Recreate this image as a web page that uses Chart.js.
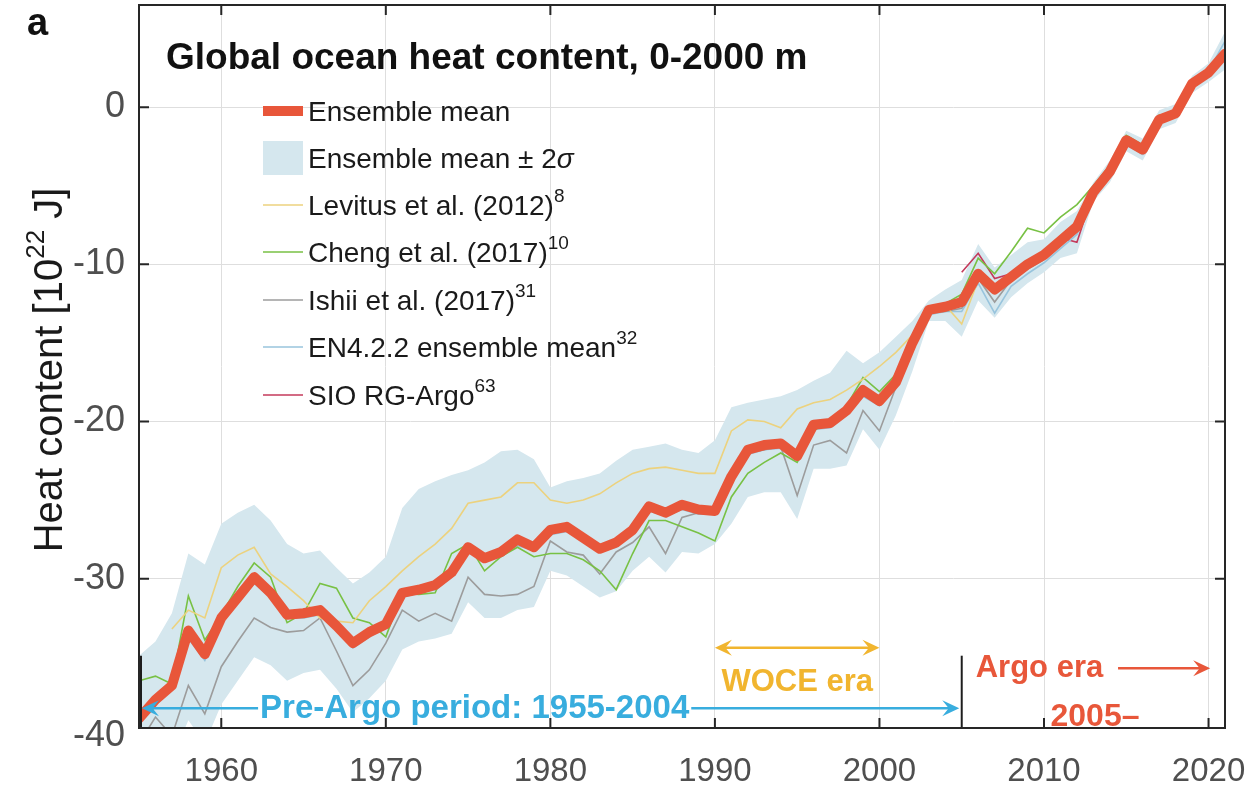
<!DOCTYPE html>
<html>
<head>
<meta charset="utf-8">
<script src="https://cdn.jsdelivr.net/npm/chart.js@4.4.1/dist/chart.umd.min.js"></script>
<style>
  html, body { margin: 0; padding: 0; background: #ffffff; }
  canvas { display: block; }
</style>
</head>
<body>
<canvas id="ohc" width="1255" height="791"></canvas>
<script>
// ---- data: global ocean heat content anomaly, 0-2000 m [10^22 J] ----
const years = [1955,1956,1957,1958,1959,1960,1961,1962,1963,1964,1965,1966,1967,1968,1969,
  1970,1971,1972,1973,1974,1975,1976,1977,1978,1979,1980,1981,1982,1983,1984,1985,1986,1987,1988,1989,
  1990,1991,1992,1993,1994,1995,1996,1997,1998,1999,2000,2001,2002,2003,2004,2005,2006,2007,2008,2009,
  2010,2011,2012,2013,2014,2015,2016,2017,2018,2019,2020,2021];

const ensembleMean = [-38.9,-37.7,-36.8,-33.3,-34.8,-32.5,-31.2,-29.9,-30.9,-32.3,-32.2,-32.0,-33.0,-34.1,-33.4,
  -32.9,-30.9,-30.7,-30.4,-29.6,-28.0,-28.7,-28.3,-27.5,-28.0,-26.9,-26.7,-27.4,-28.1,-27.7,-26.9,-25.4,-25.8,-25.3,-25.6,
  -25.7,-23.5,-21.8,-21.5,-21.4,-22.2,-20.2,-20.1,-19.3,-18.0,-18.7,-17.5,-15.0,-12.9,-12.7,-12.4,-10.6,-11.6,-10.8,-10.0,
  -9.4,-8.5,-7.6,-5.4,-4.1,-2.1,-2.7,-0.8,-0.4,1.5,2.2,3.4];

const bandUpper = [-34.9,-34.0,-32.2,-28.4,-29.1,-26.5,-25.8,-25.3,-26.3,-27.8,-28.4,-28.2,-29.3,-30.3,-29.6,
  -28.6,-25.5,-24.3,-23.8,-23.4,-23.1,-22.6,-21.9,-21.8,-22.4,-24.2,-23.8,-23.6,-23.3,-22.5,-21.8,-21.6,-21.4,-21.8,-22.0,
  -21.2,-19.1,-18.8,-18.6,-18.4,-18.0,-17.4,-16.9,-15.5,-16.3,-15.6,-14.6,-13.6,-12.3,-11.6,-11.0,-8.7,-10.2,-9.4,-8.6,
  -8.4,-7.3,-6.6,-4.8,-3.4,-1.5,-2.0,-0.2,0.2,2.0,2.8,4.8];

const bandLower = [-43.0,-42.0,-41.5,-39.0,-40.5,-38.0,-36.5,-35.0,-35.5,-36.5,-36.0,-35.8,-37.0,-38.5,-37.6,
  -36.5,-34.5,-34.0,-33.8,-33.5,-31.5,-32.5,-32.5,-32.0,-31.8,-29.5,-29.8,-30.5,-31.2,-30.8,-29.5,-28.6,-29.6,-28.3,-28.4,
  -27.8,-26.5,-24.8,-24.5,-24.5,-26.2,-23.0,-23.0,-22.8,-20.5,-21.8,-19.6,-16.8,-13.6,-13.6,-14.6,-12.3,-13.4,-12.1,-11.2,
  -10.5,-9.6,-9.3,-6.0,-4.8,-2.8,-3.4,-1.4,-1.0,0.9,1.6,2.4];

const levitus = [null,null,-33.2,-32.0,-32.5,-29.3,-28.5,-28.0,-29.7,-30.5,-31.4,-32.5,-32.7,-32.8,-31.4,
  -30.5,-29.5,-28.6,-27.8,-26.8,-25.2,-25.0,-24.8,-23.9,-23.9,-25.0,-25.2,-25.0,-24.6,-23.9,-23.3,-23.0,-22.9,-23.1,-23.3,
  -23.3,-20.6,-19.9,-20.0,-20.4,-19.2,-18.8,-18.6,-18.0,-17.3,-16.5,-15.6,-14.5,-13.0,-12.6,-13.8,-11.0,-11.3,-10.6,-9.8,
  -9.3,-8.6,-7.4,-5.6,-4.3,-2.3,-2.5,-1.0,-0.6,1.2,2.0,3.2];

const cheng = [-36.5,-36.2,-36.7,-31.1,-33.9,-32.3,-30.5,-29.0,-29.9,-32.8,-32.2,-30.3,-30.6,-32.5,-32.8,
  -33.7,-30.9,-31.0,-30.9,-28.4,-27.8,-29.5,-28.6,-28.0,-28.6,-28.4,-28.4,-28.8,-29.5,-30.7,-28.4,-26.3,-26.3,-26.7,-27.1,
  -27.6,-24.8,-23.3,-22.6,-22.0,-22.6,-20.6,-19.9,-19.0,-17.2,-18.1,-17.0,-14.8,-12.8,-12.5,-11.9,-9.6,-10.6,-9.2,-7.7,
  -8.0,-7.0,-6.2,-5.0,-3.7,-1.8,-2.4,-0.5,-0.6,1.6,2.3,3.6];

const ishii = [-40.5,-38.8,-40.0,-36.8,-38.6,-35.6,-34.0,-32.5,-33.1,-33.4,-33.3,-32.5,-34.6,-36.8,-35.8,
  -34.1,-32.0,-32.7,-32.2,-32.7,-29.9,-31.0,-31.1,-31.0,-30.5,-27.6,-28.3,-28.5,-29.7,-28.3,-27.7,-26.7,-28.4,-26.1,-25.8,
  -25.7,-23.8,-22.0,-21.8,-21.6,-24.7,-21.5,-21.2,-22.0,-19.3,-20.6,-17.8,-15.5,-13.1,-13.0,-12.8,-10.9,-12.4,-11.0,-10.3,
  -9.7,-8.8,-7.9,-5.6,-4.3,-2.3,-2.9,-1.0,-0.6,1.3,2.0,3.2];

const en4 = [-39.2,-38.0,-37.0,-33.8,-35.2,-32.9,-31.5,-30.3,-31.2,-32.5,-32.5,-32.3,-33.3,-34.4,-33.7,
  -33.1,-31.2,-30.9,-30.7,-29.9,-28.3,-28.9,-28.6,-27.9,-28.2,-27.2,-27.0,-27.6,-28.3,-28.0,-27.1,-25.7,-26.0,-25.6,-25.9,
  -25.9,-23.8,-22.1,-21.8,-21.7,-22.5,-20.5,-20.4,-19.6,-18.4,-19.0,-17.9,-15.4,-13.2,-13.0,-13.0,-11.2,-13.1,-11.4,-10.6,
  -9.9,-9.0,-8.1,-5.8,-4.4,-2.4,-3.0,-1.0,-0.6,1.4,2.3,4.2];

const sioArgo = [null,null,null,null,null,null,null,null,null,null,null,null,null,null,null,
  null,null,null,null,null,null,null,null,null,null,null,null,null,null,null,null,null,null,null,null,
  null,null,null,null,null,null,null,null,null,null,null,null,null,null,null,-10.5,-9.3,-10.9,-10.6,-9.9,
  -9.3,-8.3,-8.6,-5.4,-4.1,-2.1,-2.7,-0.8,-0.4,1.5,2.2,3.4];

const xTickValues = [1960, 1970, 1980, 1990, 2000, 2010, 2020];
const yTickValues = [-40, -30, -20, -10, 0];

const seriesLabels = ['Ensemble mean', 'Ensemble mean \u00B1 2', 'Levitus et al. (2012)', 'Cheng et al. (2017)',
  'Ishii et al. (2017)', 'EN4.2.2 ensemble mean', 'SIO RG-Argo'];
const seriesRefs = ['', '', '8', '10', '31', '32', '63'];

// ---- styling ----
const FONT = "'Liberation Sans', Arial, Helvetica, sans-serif";
const C = {
  mean: '#E8563A',
  band: '#D5E7EE',
  levitus: '#ECD27E',
  cheng: '#78C144',
  ishii: '#9C9C9C',
  en4: '#98C4DD',
  sio: '#C43A5B',
  axis: '#262626',
  grid: '#DEDEDE',
  tick: '#4F4F4F',
  blue: '#38ADDE',
  woce: '#F1B52F',
  argo: '#E8573A'
};

const pts = arr => years.map((yr, i) => ({ x: yr, y: arr[i] }));
const thin = (label, data, color) => ({
  label, data: pts(data), borderColor: color, backgroundColor: color,
  borderWidth: 1.6, pointRadius: 0, fill: false, order: 2, spanGaps: false
});

const datasets = [
  { label: 'Ensemble mean \u00B1 2\u03C3 upper', data: pts(bandUpper), borderWidth: 0, pointRadius: 0,
    backgroundColor: C.band, borderColor: 'transparent', fill: { target: '+1' }, order: 3 },
  { label: 'Ensemble mean \u00B1 2\u03C3 lower', data: pts(bandLower), borderWidth: 0, pointRadius: 0,
    backgroundColor: C.band, borderColor: 'transparent', fill: false, order: 3 },
  thin(seriesLabels[2], levitus, C.levitus),
  thin(seriesLabels[3], cheng, C.cheng),
  thin(seriesLabels[4], ishii, C.ishii),
  thin(seriesLabels[5], en4, C.en4),
  thin(seriesLabels[6], sioArgo, C.sio),
  { label: seriesLabels[0], data: pts(ensembleMean), borderColor: C.mean, backgroundColor: C.mean,
    borderWidth: 10, pointRadius: 0, fill: false, order: 0, borderJoinStyle: 'round', borderCapStyle: 'round' }
];

// ---- helpers for drawing text runs with superscripts ----
function drawRuns(ctx, x, y, runs) {
  let cx = x;
  runs.forEach(r => {
    ctx.font = r.font;
    ctx.fillStyle = r.color;
    ctx.fillText(r.text, cx, y - (r.rise || 0));
    cx += ctx.measureText(r.text).width;
  });
  return cx;
}

function arrowHead(ctx, tx, ty, dir, color) {
  const L = 17, W = 8;
  ctx.fillStyle = color;
  ctx.beginPath();
  ctx.moveTo(tx, ty);
  ctx.lineTo(tx - dir * L, ty - W);
  ctx.lineTo(tx - dir * L * 0.62, ty);
  ctx.lineTo(tx - dir * L, ty + W);
  ctx.closePath();
  ctx.fill();
}

function hLine(ctx, x1, x2, y, color, w) {
  ctx.strokeStyle = color; ctx.lineWidth = w;
  ctx.beginPath(); ctx.moveTo(x1, y); ctx.lineTo(x2, y); ctx.stroke();
}

// era annotations along the bottom of the plot
const eraNotes = {
  id: 'eraNotes',
  afterDatasetsDraw(chart) {
    const { ctx, scales: { x, y }, chartArea: a } = chart;
    ctx.save();
    ctx.textBaseline = 'middle';

    // divider lines at 1955 and 2005
    ctx.strokeStyle = '#1E1E1E'; ctx.lineWidth = 2;
    [1955, 2005].forEach(v => {
      const px = x.getPixelForValue(v) + (v === 1955 ? 2 : 0);
      ctx.beginPath(); ctx.moveTo(px, y.getPixelForValue(-34.9)); ctx.lineTo(px, a.bottom); ctx.stroke();
    });

    // pre-Argo period
    ctx.font = 'bold 33px ' + FONT;
    const preText = 'Pre-Argo period: 1955-2004';
    const preW = ctx.measureText(preText).width;
    const preCx = x.getPixelForValue(1975.4);
    const preY = y.getPixelForValue(-38.25);
    ctx.fillStyle = C.blue; ctx.textAlign = 'center';
    ctx.fillText(preText, preCx, preY + 1);
    const pL = x.getPixelForValue(1955) + 3, pR = x.getPixelForValue(2004.85);
    hLine(ctx, pL + 10, preCx - preW / 2 - 2, preY, C.blue, 2.5);
    hLine(ctx, preCx + preW / 2 + 2, pR - 10, preY, C.blue, 2.5);
    arrowHead(ctx, pL, preY, -1, C.blue);
    arrowHead(ctx, pR, preY, 1, C.blue);

    // WOCE era
    const wY = y.getPixelForValue(-34.4);
    const w1 = x.getPixelForValue(1990), w2 = x.getPixelForValue(2000);
    hLine(ctx, w1 + 10, w2 - 10, wY, C.woce, 2.5);
    arrowHead(ctx, w1, wY, -1, C.woce);
    arrowHead(ctx, w2, wY, 1, C.woce);
    ctx.font = 'bold 31px ' + FONT;
    ctx.fillStyle = C.woce; ctx.textAlign = 'center';
    ctx.fillText('WOCE era', x.getPixelForValue(1995), y.getPixelForValue(-36.6));

    // Argo era
    ctx.fillStyle = C.argo; ctx.textAlign = 'left';
    const aY = y.getPixelForValue(-35.7);
    ctx.fillText('Argo era', x.getPixelForValue(2005.85), aY);
    const a1 = x.getPixelForValue(2014.5), a2 = x.getPixelForValue(2020.1);
    hLine(ctx, a1, a2 - 10, aY, C.argo, 2.5);
    arrowHead(ctx, a2, aY, 1, C.argo);
    ctx.font = 'bold 32px ' + FONT;
    ctx.textAlign = 'center';
    ctx.fillText('2005\u2013', x.getPixelForValue(2013.1), y.getPixelForValue(-38.8));
    ctx.restore();
  }
};

// axes box with inward ticks, legend, titles
const frame = {
  id: 'frame',
  afterDraw(chart) {
    const { ctx, scales: { x, y }, chartArea: a } = chart;
    ctx.save();
    ctx.strokeStyle = C.axis; ctx.lineWidth = 2;
    ctx.beginPath();
    xTickValues.forEach(v => {
      const px = x.getPixelForValue(v);
      ctx.moveTo(px, a.bottom); ctx.lineTo(px, a.bottom - 10);
      ctx.moveTo(px, a.top); ctx.lineTo(px, a.top + 10);
    });
    yTickValues.forEach(v => {
      if (v < y.min) return;
      const py = y.getPixelForValue(v);
      ctx.moveTo(a.left, py); ctx.lineTo(a.left + 10, py);
      ctx.moveTo(a.right, py); ctx.lineTo(a.right - 10, py);
    });
    ctx.stroke();
    ctx.strokeRect(a.left, a.top, a.right - a.left, a.bottom - a.top);

    // panel letter and title
    ctx.textBaseline = 'alphabetic'; ctx.textAlign = 'left';
    ctx.fillStyle = '#111';
    ctx.font = 'bold 38px ' + FONT;
    ctx.fillText('a', 27, 35);
    ctx.font = 'bold 37px ' + FONT;
    ctx.fillText('Global ocean heat content, 0-2000 m', 166, 69);

    // legend
    const rowY = [111, 158, 205, 252, 300, 347, 395];
    const sx1 = 263, sx2 = 303, tx = 308;
    const textFont = '28px ' + FONT, supFont = '19px ' + FONT;
    const swatch = [C.mean, null, C.levitus, C.cheng, C.ishii, C.en4, C.sio];
    rowY.forEach((ry, i) => {
      if (i === 0) {
        hLine(ctx, sx1, sx2, ry, C.mean, 10);
      } else if (i === 1) {
        ctx.fillStyle = C.band;
        ctx.fillRect(sx1, ry - 17, sx2 - sx1, 34);
      } else {
        hLine(ctx, sx1, sx2, ry, swatch[i], 1.6);
      }
      const runs = [{ text: seriesLabels[i], font: textFont, color: '#1A1A1A' }];
      if (i === 1) runs.push({ text: '\u03C3', font: 'italic 28px ' + FONT, color: '#1A1A1A' });
      if (seriesRefs[i]) runs.push({ text: seriesRefs[i], font: supFont, color: '#1A1A1A', rise: 13 });
      drawRuns(ctx, tx, ry + 10, runs);
    });

    // y-axis title with superscript exponent
    ctx.translate(62, 370);
    ctx.rotate(-Math.PI / 2);
    const yRuns = [
      { text: 'Heat content [10', font: '40px ' + FONT, color: '#1A1A1A' },
      { text: '22', font: '26px ' + FONT, color: '#1A1A1A', rise: 18 },
      { text: ' J]', font: '40px ' + FONT, color: '#1A1A1A' }
    ];
    let tw = 0;
    yRuns.forEach(r => { ctx.font = r.font; tw += ctx.measureText(r.text).width; });
    drawRuns(ctx, -tw / 2, 0, yRuns);
    ctx.restore();
  }
};

new Chart(document.getElementById('ohc'), {
  type: 'line',
  data: { datasets },
  options: {
    responsive: false,
    animation: false,
    devicePixelRatio: 1,
    layout: { padding: { top: 5, right: 30, left: 0, bottom: 0 } },
    plugins: { legend: { display: false }, tooltip: { enabled: false }, filler: { propagate: false } },
    scales: {
      x: {
        type: 'linear', min: 1955, max: 2021,
        afterBuildTicks: s => { s.ticks = xTickValues.map(v => ({ value: v })); },
        afterFit: s => { s.height = 63; s.paddingLeft = 0; s.paddingRight = 0; },
        grid: { color: C.grid, lineWidth: 1, drawTicks: false },
        border: { display: false },
        ticks: { autoSkip: false, maxRotation: 0, padding: 24, color: C.tick,
                 font: { family: FONT, size: 33 }, callback: v => String(v) }
      },
      y: {
        type: 'linear', min: -39.5, max: 6.5,
        afterBuildTicks: s => { s.ticks = yTickValues.map(v => ({ value: v })); },
        afterFit: s => { s.width = 139; s.paddingTop = 0; s.paddingBottom = 0; },
        grid: { color: c => (c.tick && c.tick.value < -39.5 ? 'rgba(0,0,0,0)' : C.grid), lineWidth: 1, drawTicks: false },
        border: { display: false },
        ticks: { autoSkip: false, padding: 14, color: C.tick,
                 font: { family: FONT, size: 36 }, callback: v => String(v) }
      }
    }
  },
  plugins: [eraNotes, frame]
});
</script>
</body>
</html>
